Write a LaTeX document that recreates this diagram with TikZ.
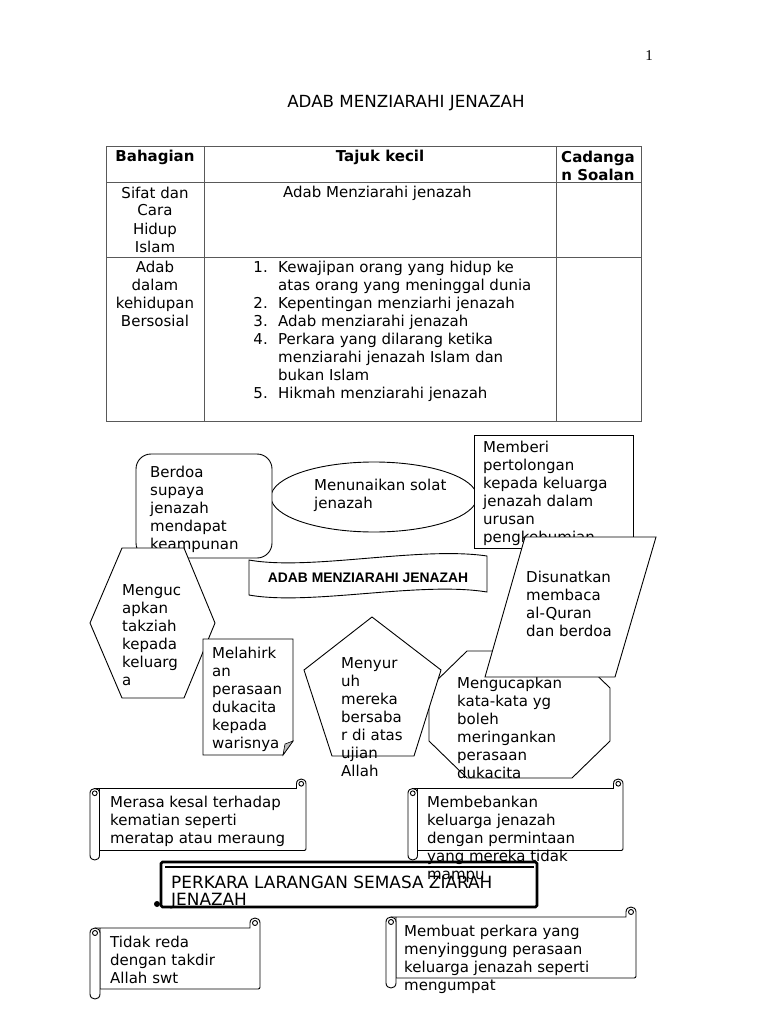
\documentclass[tikz,border=0pt]{standalone}
\usepackage{fontspec}
\setmainfont{DejaVu Sans}
\newfontfamily\arialfont{Liberation Sans}
\newfontfamily\seriffont{Liberation Serif}
\tikzset{
  tx/.style={font=\fontsize{15}{18}\selectfont, inner sep=0pt, anchor=base west, align=left},
  hd/.style={font=\bfseries\fontsize{15}{18}\selectfont, inner sep=0pt, anchor=base, align=center},
  shp/.style={draw=black, fill=white, line width=0.9pt, line join=miter},
  tbl/.style={draw=black!65, line width=1pt},
}
\newcommand\drawscroll[6]{%
 \pgfmathsetmacro\sL{#2}%
 \pgfmathsetmacro\sT{#3}%
 \pgfmathsetmacro\sR{#4}%
 \pgfmathsetmacro\sB{#5}%
 \pgfmathsetmacro\sc{#6}%
 \pgfmathsetmacro\sk{0.6667*\sc}%
 \pgfmathsetmacro\sr{\sc/4}%
 \path[#1] ({\sL+\sc/2},{\sT+\sc}) -- ({\sR-\sc},{\sT+\sc}) -- ({\sR-\sc},{\sT+\sc/2})
   .. controls ({\sR-\sc},{\sT+\sc/2-\sk}) and ({\sR},{\sT+\sc/2-\sk}) .. ({\sR},{\sT+\sc/2})
   -- ({\sR},{\sB-\sc-4}) .. controls ({\sR},{\sB-\sc}) .. ({\sR-4},{\sB-\sc})
   -- ({\sL+\sc},{\sB-\sc}) -- ({\sL+\sc},{\sT+\sc}) -- cycle;
 \path[#1] ({\sR-\sc/2},{\sT+\sc/2}) circle[radius=\sr pt];
 \path[#1] (\sL,{\sT+1.5*\sc}) -- (\sL,{\sB-\sc/2})
   .. controls (\sL,{\sB-\sc/2+\sk}) and ({\sL+\sc},{\sB-\sc/2+\sk}) .. ({\sL+\sc},{\sB-\sc/2})
   -- ({\sL+\sc},{\sT+1.5*\sc})
   .. controls ({\sL+\sc},{\sT+1.5*\sc-\sk}) and (\sL,{\sT+1.5*\sc-\sk}) .. (\sL,{\sT+1.5*\sc}) -- cycle;
 \path[#1] ({\sL+\sc/2},{\sT+1.5*\sc}) circle[radius=\sr pt];
}
\begin{document}
\begin{tikzpicture}[x=1pt,y=-1pt]
\useasboundingbox[fill=white] (0,0) rectangle (768,1024);

% page number and title
\node[font=\seriffont\fontsize{15}{18}\selectfont, inner sep=0pt, anchor=base] (pg) at (649,61) {1};
\node[font=\fontsize{16.7}{20}\selectfont, inner sep=0pt, anchor=base] (title) at (406,108) {ADAB MENZIARAHI JENAZAH};

% table (base anchor of a multi-line node = baseline of its last line)
\draw[tbl] (106,147) rectangle (641,421);
\draw[tbl] (106,183) -- (641,183);
\draw[tbl] (106,257) -- (641,257);
\draw[tbl] (204,147) -- (204,421);
\draw[tbl] (556,147) -- (556,421);
\node[hd] (h1) at (155,162) {Bahagian};
\node[hd] (h2) at (380,162) {Tajuk kecil};
\node[hd] (h3) at (598,181) {Cadanga\\n Soalan};
\node[tx, align=center, anchor=base] (r1a) at (155,252) {Sifat dan\\Cara\\Hidup\\Islam};
\node[tx] (r1b) at (283,198) {Adab Menziarahi jenazah};
\node[tx, align=center, anchor=base] (r2a) at (155,326) {Adab\\dalam\\kehidupan\\Bersosial};
\node[tx, align=right, anchor=base east] (nums) at (268,398) {1.\\\mbox{}\\2.\\3.\\4.\\\mbox{}\\\mbox{}\\5.};
\node[tx] (list) at (278,398) {Kewajipan orang yang hidup ke\\atas orang yang meninggal dunia\\Kepentingan menziarhi jenazah\\Adab menziarahi jenazah\\Perkara yang dilarang ketika\\menziarahi jenazah Islam dan\\bukan Islam\\Hikmah menziarahi jenazah};

% ellipse
\draw[shp] (374,497) ellipse [x radius=103pt, y radius=35pt];
\node[tx] (solat) at (314,508) {Menunaikan solat\\jenazah};

% rounded box
\draw[shp, rounded corners=15pt] (136,454) rectangle (272,558);
\node[tx] (berdoa) at (150,549) {Berdoa\\supaya\\jenazah\\mendapat\\keampunan};

% rectangle Memberi
\draw[shp] (474,435) rectangle (633,548);
\begin{scope}
\clip (474,435) rectangle (633,548);
\node[tx] (memberi) at (483,542) {Memberi\\pertolongan\\kepada keluarga\\jenazah dalam\\urusan\\pengkebumian};
\end{scope}

% wave banner
\draw[shp] (249,560) .. controls (310,571) and (420,546) .. (487,556) -- (487,592) .. controls (420,581) and (310,606) .. (249,595) -- cycle;
\node[font=\arialfont\bfseries\fontsize{13.85}{16}\selectfont, inner sep=0pt, anchor=base] (banner) at (368,582) {ADAB MENZIARAHI JENAZAH};

% hexagon
\draw[shp] (122,548) -- (184,548) -- (215,623) -- (184,698) -- (122,698) -- (90,623) -- cycle;
\node[tx] (takziah) at (122,685) {Menguc\\apkan\\takziah\\kepada\\keluarg\\a};

% octagon
\draw[shp] (467,651) -- (572,651) -- (610,688) -- (610,741) -- (572,778) -- (467,778) -- (429,741) -- (429,688) -- cycle;
\node[tx] (kata) at (457,778) {Mengucapkan\\kata-kata yg\\boleh\\meringankan\\perasaan\\dukacita};

% parallelogram
\draw[shp] (525,537) -- (656,537) -- (615,677) -- (485,677) -- cycle;
\node[tx] (quran) at (526,636) {Disunatkan\\membaca\\al-Quran\\dan berdoa};

% folded corner box
\draw[shp] (203,639) -- (293,639) -- (293,741) -- (283,755) -- (203,755) -- cycle;
\filldraw[fill=black!25, draw=black, line width=0.6pt] (283,755) -- (293,741) -- (285,744) -- cycle;
\node[tx] (lahir) at (212,748) {Melahirk\\an\\perasaan\\dukacita\\kepada\\warisnya};

% pentagon
\draw[shp] (372,617) -- (441,670) -- (414,756) -- (332,756) -- (304,670) -- cycle;
\node[tx] (sabar) at (341,776) {Menyur\\uh\\mereka\\bersaba\\r di atas\\ujian\\Allah};

% scrolls
\drawscroll{shp}{90}{779}{306}{860}{9.5}
\node[tx] (kesal) at (110,843) {Merasa kesal terhadap\\kematian seperti\\meratap atau meraung};

\drawscroll{shp}{408}{779}{623}{860}{9.5}

% PERKARA banner
\draw[line width=2.6pt, rounded corners=1.5pt, fill=white] (161,862) rectangle (537,907);
\draw[line width=1.1pt] (165,867) -- (534,867);
\fill (157,904) circle[radius=3pt];
\node[tx, font=\fontsize{16.9}{17.5}\selectfont] (perkara) at (171,905.5) {PERKARA LARANGAN SEMASA ZIARAH\\JENAZAH};

\node[tx] (beban) at (427,879) {Membebankan\\keluarga jenazah\\dengan permintaan\\yang mereka tidak\\mampu};

\drawscroll{shp}{90}{918}{260}{999}{10}
\node[tx] (reda) at (110,983) {Tidak reda\\dengan takdir\\Allah swt};

\drawscroll{shp}{386}{907}{636}{988}{10}
\node[tx] (umpat) at (404,990) {Membuat perkara yang\\menyinggung perasaan\\keluarga jenazah seperti\\mengumpat};
\end{tikzpicture}
\end{document}
